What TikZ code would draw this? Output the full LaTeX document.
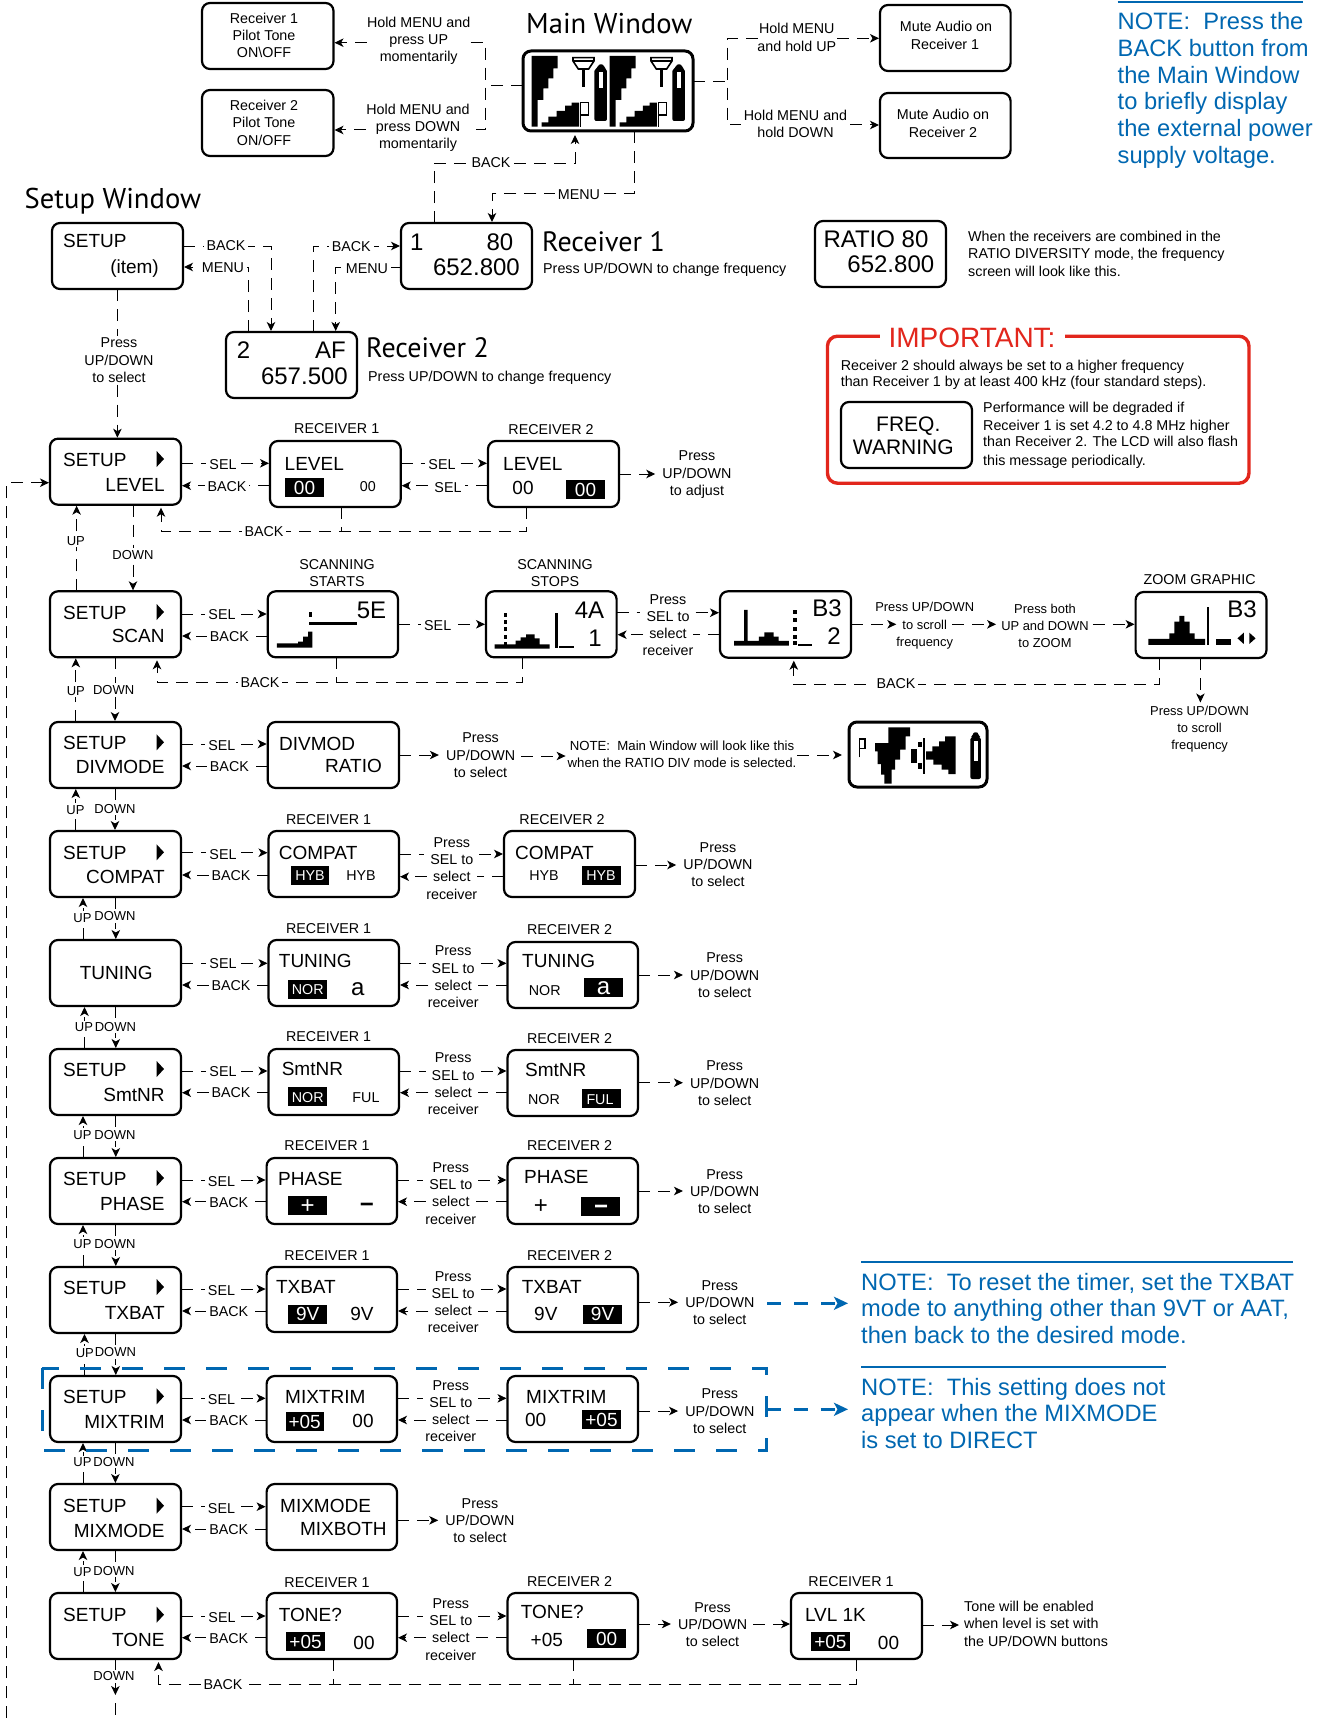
\documentclass[tikz,border=0pt]{standalone}
\usepackage{fontspec}
\setmainfont{Liberation Sans}
\newfontfamily\myr{PT Sans}
\usetikzlibrary{arrows.meta}
\definecolor{nblue}{RGB}{0,103,177}
\definecolor{nred}{RGB}{226,38,28}
\newcounter{tn}
\tikzset{
 tx/.style={inner sep=0pt,font=\fontsize{14.3}{17}\selectfont},
 big/.style={font=\fontsize{19}{22}\selectfont},
 lg/.style={font=\fontsize{24}{26}\selectfont},
 nt/.style={font=\fontsize{23.7}{26}\selectfont,text=nblue},
 ttl/.style={font=\fontsize{28}{30}\myr},
 ttlb/.style={font=\fontsize{28.6}{30}\myr},
 smf/.style={font=\fontsize{12.9}{16}\selectfont},
 lb/.style={fill=white,inner xsep=3pt,inner ysep=1pt},
 lbv/.style={fill=white,inner xsep=0.5pt,inner ysep=2pt,font=\fontsize{13}{16}\selectfont},
 sd/.style={inner xsep=6pt},
 lcdbox/.style={draw,line width=2.2pt,rounded corners=8pt,inner sep=0pt,outer sep=0pt},
 dl/.style={line width=1pt,dash pattern=on 12pt off 8pt},
 dla/.style={dl,-{Stealth[length=9pt,width=8.5pt,inset=2.5pt]},shorten >=1pt},
 bl/.style={line width=3pt,nblue,dash pattern=on 14pt off 13pt},
 bla/.style={bl,-{Stealth[length=14pt,width=13pt,inset=3.5pt]}},
}
\newcommand\Tc[4][]{\stepcounter{tn}\node[tx,anchor=base,#1] (t\number\value{tn}) at (#2,#3) {#4};}
\newcommand\Tl[4][]{\stepcounter{tn}\node[tx,anchor=base west,#1] (t\number\value{tn}) at (#2,#3) {#4};}
\newcommand\Tr[4][]{\stepcounter{tn}\node[tx,anchor=base east,#1] (t\number\value{tn}) at (#2,#3) {#4};}
\newcommand\lcd[6][]{\pgfmathsetmacro\lcdw{#5-#3}\pgfmathsetmacro\lcdh{#6-#4}%
 \node[lcdbox,minimum width=\lcdw pt,minimum height=\lcdh pt,#1] (#2) at ({(#3+#5)/2},{(#4+#6)/2}) {};}
\newcommand\inv[8][big]{\fill (#2,#3) rectangle (#4,#5); \Tc[#1,text=white]{#6}{#7}{#8}}
\newcommand\setupbox[5]{\lcd{#1}{50}{#2}{181}{#2+66}
 \Tl[big]{63}{#4}{SETUP}
 \fill (156.6,#4-15) -- (164,#4-7) -- (156.6,#4+1) -- cycle;
 \Tr[big]{164.8}{#5}{#3}}
\newcommand\blkiii[7][]{\pgfmathsetmacro\ba{#4+17.3}\pgfmathsetmacro\bb{#4+34.6}%
 \node[tx,anchor=base,sd,#1] (#2a) at (#3,#4) {#5};
 \node[tx,anchor=base,sd,#1] (#2b) at (#3,\ba) {#6};
 \node[tx,anchor=base,sd,#1] (#2c) at (#3,\bb) {#7};}
\newcommand\blkii[6][]{\pgfmathsetmacro\ba{#4+17.3}%
 \node[tx,anchor=base,sd,#1] (#2a) at (#3,#4) {#5};
 \node[tx,anchor=base,sd,#1] (#2b) at (#3,\ba) {#6};}
\newcommand\blkiv[3]{\pgfmathsetmacro\ba{#3+17.3}\pgfmathsetmacro\bb{#3+34.6}\pgfmathsetmacro\bc{#3+51.9}%
 \node[tx,anchor=base,sd] (#1a) at (#2,#3) {Press};
 \node[tx,anchor=base,sd] (#1b) at (#2,\ba) {SEL to};
 \node[tx,anchor=base,sd] (#1c) at (#2,\bb) {select};
 \node[tx,anchor=base,sd] (#1d) at (#2,\bc) {receiver};}
\newcommand\lnR[6]{\draw[dla] (#1.east |- 0,#3) -- (#2.west |- 0,#3); \Tc[lb]{#4}{#5}{#6}}
\newcommand\lnL[6]{\draw[dla] (#2.west |- 0,#3) -- (#1.east |- 0,#3); \Tc[lb]{#4}{#5}{#6}}
\newcommand\twoway[5]{%
 \draw[dl] (#1.east |- 0,#4) -- (#3b.west |- 0,#4);
 \draw[dla] (#3b.east |- 0,#4) -- (#2.west |- 0,#4);
 \draw[dla] (#3c.west |- 0,#5) -- (#1.east |- 0,#5);
 \draw[dl] (#2.west |- 0,#5) -- (#3c.east |- 0,#5);}
\newcommand\toblk[3]{\draw[dla] (#1.east |- 0,#3) -- (#2b.west |- 0,#3);}
\newcommand\vup[6]{\draw[dla] (#3,0 |- #1.north) -- (#3,0 |- #2.south); \Tc[lbv]{#4}{#5}{#6}}
\newcommand\vdn[6]{\draw[dla] (#3,0 |- #1.south) -- (#3,0 |- #2.north); \Tc[lbv]{#4}{#5}{#6}}
\begin{document}
\begin{tikzpicture}[x=1pt,y=-1pt]
\useasboundingbox (0,0) rectangle (1320,1718);
% ---------- screens
\lcd{pilota}{202}{3}{333.5}{69}
\lcd{pilotb}{202}{90}{333.5}{156}
\lcd[line width=3pt]{mainw}{523}{51}{693}{131}
\lcd{mutea}{880}{5}{1010.6}{71}
\lcd{muteb}{880}{93}{1010.6}{158}
\lcd{swin}{52}{223}{183}{289}
\lcd{reca}{401}{223}{532}{289}
\lcd{recb}{226}{332}{357}{398}
\lcd{ratio}{815}{221}{946}{287}
\lcd{freq}{841}{402}{972}{468}
\lcd{lvla}{270}{441}{400.7}{507}
\lcd{lvlb}{488}{441}{619}{507}
\lcd{scana}{267.7}{591.3}{398}{657.3}
\lcd{scanb}{486}{591.3}{616.6}{657.3}
\lcd{bthree}{720}{591.3}{851}{657.7}
\lcd{zoomg}{1135.6}{592}{1266.5}{658}
\lcd{divm}{267.7}{722}{399}{788}
\lcd[line width=3pt]{rmain}{849}{722}{987}{787}
\lcd{compa}{268.5}{831}{399}{897}
\lcd{compb}{504}{831}{635}{897}
\lcd{tuna}{268.5}{940}{399}{1006}
\lcd{tunb}{507.5}{942}{638}{1008}
\lcd{smta}{268.5}{1049}{399}{1115}
\lcd{smtb}{507.5}{1050}{638}{1116}
\lcd{phaa}{266.6}{1158}{397}{1224}
\lcd{phab}{507.5}{1158}{638}{1224}
\lcd{txba}{266.6}{1267}{397}{1332}
\lcd{txbb}{507.5}{1267}{638}{1332}
\lcd{mixa}{266.6}{1376}{397}{1442}
\lcd{mixb}{507.5}{1376}{638}{1442}
\lcd{mixm}{266.6}{1484}{397}{1550}
\lcd{tona}{266.6}{1593}{397}{1659}
\lcd{tonb}{507.5}{1593}{638}{1659}
\lcd{lvlk}{791}{1593}{922}{1659}
% ---------- setup column
\setupbox{slevel}{438.7}{LEVEL}{466}{491}
\setupbox{sscan}{591.3}{SCAN}{619}{642.7}
\setupbox{sdiv}{722}{DIVMODE}{749.3}{773.3}
\setupbox{scomp}{831}{COMPAT}{859.3}{883.3}
\lcd{stun}{50}{940}{181}{1006}
\Tc[big]{116.3}{979}{TUNING}
\setupbox{ssmt}{1049}{SmtNR}{1076}{1101}
\setupbox{spha}{1158}{PHASE}{1185}{1210}
\setupbox{stxb}{1267}{TXBAT}{1294}{1319}
\setupbox{smix}{1376}{MIXTRIM}{1403.3}{1428.3}
\setupbox{smm}{1484}{MIXMODE}{1512.7}{1537.3}
\setupbox{ston}{1593}{TONE}{1621.7}{1646}
% ---------- titles, top block
\Tl[ttlb]{526}{33.3}{Main Window}
\Tl[ttlb]{24.5}{208.3}{Setup Window}
\Tl[ttl]{542}{251.7}{Receiver 1}
\Tl[ttl]{366}{357}{Receiver 2}
\Tl{543}{273}{Press UP/DOWN to change frequency}
\Tl{368}{381}{Press UP/DOWN to change frequency}
\Tc{264}{24}{Receiver 1}\Tc{264}{40.7}{Pilot Tone}\Tc{264}{57.7}{ON\textbackslash OFF}
\Tc{264}{111}{Receiver 2}\Tc{264}{128}{Pilot Tone}\Tc{264}{145.3}{ON/OFF}
\Tc{946}{31.7}{Mute Audio on}\Tc{945}{49.3}{Receiver 1}
\Tc{943}{119.3}{Mute Audio on}\Tc{943}{137.3}{Receiver 2}
\blkiii[inner xsep=0pt]{hma}{418.7}{27.3}{Hold MENU and}{press UP}{momentarily}
\blkiii[inner xsep=0pt]{hmb}{418}{114.3}{Hold MENU and}{press DOWN}{momentarily}
\blkii[inner xsep=1pt]{hmc}{796.8}{34}{Hold MENU}{and hold UP}
\blkii[inner xsep=3pt]{hmd}{795.5}{120.7}{Hold MENU and}{hold DOWN}
\Tl[big]{63}{247.7}{SETUP}
\Tr[big]{159}{273}{(item)}
\Tl[lg]{410}{250}{1}\Tr[lg]{513.4}{250}{80}\Tr[lg]{520}{275}{652.800}
\Tl[lg]{236.6}{358}{2}\Tr[lg]{346}{358}{AF}\Tr[lg]{348}{384}{657.500}
\Tl[lg]{823.3}{247.7}{RATIO 80}\Tr[lg]{934.4}{272.3}{652.800}
\Tl{968}{241}{When the receivers are combined in the}
\Tl{968}{258.3}{RATIO DIVERSITY mode, the frequency}
\Tl{968}{276}{screen will look like this.}
% ---------- notes
\draw[nblue,line width=1.6pt] (1117.5,2) -- (1302.7,2);
\Tl[nt]{1117.5}{30}{NOTE:\ \ Press the}
\Tl[nt]{1117.5}{57}{BACK button from}
\Tl[nt]{1117.5}{83.5}{the Main Window}
\Tl[nt]{1117.5}{110}{to briefly display}
\Tl[nt]{1117.5}{137}{the external power}
\Tl[nt]{1117.5}{163}{supply voltage.}
\draw[nblue,line width=1.6pt] (861,1261.7) -- (1293,1261.7);
\Tl[nt]{861}{1290}{NOTE:\ \ To reset the timer, set the TXBAT}
\Tl[nt]{861}{1316.7}{mode to anything other than 9VT or AAT,}
\Tl[nt]{861}{1343.3}{then back to the desired mode.}
\draw[nblue,line width=1.6pt] (861,1366.7) -- (1165.6,1366.7);
\Tl[nt]{861}{1395}{NOTE:\ \ This setting does not}
\Tl[nt]{861}{1421.7}{appear when the MIXMODE}
\Tl[nt]{861}{1448.3}{is set to DIRECT}
% ---------- important
\node[draw=nred,line width=3.4pt,rounded corners=10pt,minimum width=421.5pt,minimum height=147pt,inner sep=0pt] (imp) at (1038.2,409.7) {};
\Tc[fill=white,inner xsep=9pt,text=nred,font=\fontsize{28}{30}\selectfont]{972}{347.3}{IMPORTANT:}
\Tl{840.6}{370}{Receiver 2 should always be set to a higher frequency}
\Tl{840.6}{386.7}{than Receiver 1 by at least 400 kHz (four standard steps).}
\Tl{983}{412}{Performance will be degraded if}
\Tl{983}{430}{Receiver 1 is set 4.2 to 4.8 MHz higher}
\Tl{983}{446.7}{than Receiver 2. The LCD will also flash}
\Tl{983}{465}{this message periodically.}
\Tc[font=\fontsize{21}{24}\selectfont]{908.3}{431.7}{FREQ.}
\Tc[font=\fontsize{21}{24}\selectfont]{903.3}{454}{WARNING}
% ---------- main window graphic
\begin{scope}[shift={(515,45)},x=0.3333pt,y=-0.3333pt]
\foreach \d in {0,234}{
 \fill (50+\d,33) -- (128+\d,33) -- (128+\d,70) -- (115+\d,70) -- (115+\d,100) -- (100+\d,100) -- (100+\d,130) -- (85+\d,130) -- (85+\d,165) -- (68+\d,165) -- (68+\d,245) -- (50+\d,245) -- cycle;
 \fill (80+\d,245) -- (80+\d,232) -- (100+\d,232) -- (100+\d,215) -- (125+\d,215) -- (125+\d,198) -- (150+\d,198) -- (150+\d,182) -- (170+\d,182) -- (170+\d,173) -- (192+\d,173) -- (192+\d,245) -- cycle;
 \draw[line width=1.2pt] (197+\d,245) -- (197+\d,173) -- (220+\d,173) -- (220+\d,210) -- (197+\d,210);
 \draw[line width=1.6pt] (174+\d,38) -- (237+\d,38) -- (237+\d,48) -- (221+\d,72) -- (190+\d,72) -- (174+\d,48) -- cycle (174+\d,48) -- (237+\d,48);
 \fill (200+\d,72) rectangle (211+\d,125);
 \fill[rounded corners=2pt] (238+\d,228) -- (238+\d,72) -- (250+\d,68) -- (250+\d,58) -- (266+\d,58) -- (266+\d,68) -- (276+\d,72) -- (276+\d,228) -- cycle;
 \fill[white] (253+\d,80) rectangle (264+\d,130);
}
\end{scope}
% ---------- scan graphics
\begin{scope}[shift={(0,420)},x=0.4209pt,y=-0.3333pt]
\fill (658,683) -- (658,670) -- (708,670) -- (708,665) -- (720,665) -- (720,650) -- (732,650) -- (732,635) -- (742,635) -- (742,683) -- cycle;
\fill (733,576) rectangle (742,590);
\fill (735,605) rectangle (848,615);
\fill (1175,686) -- (1175,673) -- (1225,673) -- (1225,662) -- (1237,662) -- (1237,652) -- (1250,652) -- (1250,643) -- (1270,643) -- (1270,655) -- (1282,655) -- (1282,673) -- (1306,673) -- (1306,686) -- cycle;
\foreach \a in {578,600,622,645,665}{\fill (1197,\a) rectangle (1205,\a+12);}
\fill (1318,578) rectangle (1325,683);
\fill (1329,678) rectangle (1364,683);
\end{scope}
\begin{scope}[shift={(660,540)},x=0.4209pt,y=-0.3333pt]
\fill (176,317) -- (176,303) -- (200,303) -- (200,210) -- (208,210) -- (208,303) -- (235,303) -- (235,290) -- (248,290) -- (248,277) -- (270,277) -- (270,290) -- (282,290) -- (282,303) -- (306,303) -- (306,317) -- cycle;
\foreach \a in {210,235,260,285,303}{\fill (316,\a) rectangle (325,\a+12);}
\fill (328,313) rectangle (362,317);
% zoom
\fill (1160,315) -- (1160,297) -- (1210,297) -- (1210,280) -- (1222,280) -- (1222,245) -- (1234,245) -- (1234,228) -- (1246,228) -- (1246,245) -- (1258,245) -- (1258,280) -- (1270,280) -- (1270,297) -- (1295,297) -- (1295,315) -- cycle;
\fill (1300,200) rectangle (1304,316);
\fill (1320,298) rectangle (1357,314);
\fill (1372,295) -- (1387,278) -- (1387,312) -- cycle;
\fill (1400,278) -- (1415,295) -- (1400,312) -- cycle;
\end{scope}
% ratio main window
\begin{scope}[shift={(845,718)},x=0.3333pt,y=-0.3333pt]
\draw[line width=1.2pt] (44,118) -- (44,63) -- (60,63) -- (60,92) -- (44,92);
\fill (90,100) -- (90,75) -- (130,75) -- (130,28) -- (195,28) -- (195,55) -- (182,55) -- (182,95) -- (165,95) -- (165,125) -- (150,125) -- (150,155) -- (140,155) -- (140,197) -- (118,197) -- (118,170) -- (108,170) -- (108,138) -- (98,138) -- (98,100) -- cycle;
\fill (198,92) rectangle (215,135);
\fill (220,72) rectangle (230,88);
\fill (220,135) rectangle (230,152);
\fill (234,60) rectangle (239,168);
\fill (243,125) -- (243,100) -- (262,100) -- (262,85) -- (282,85) -- (282,70) -- (300,70) -- (300,55) -- (332,55) -- (332,168) -- (310,168) -- (310,155) -- (290,155) -- (290,140) -- (265,140) -- (265,125) -- cycle;
\fill[rounded corners=2pt] (376,183) -- (376,58) -- (384,55) -- (384,43) -- (400,43) -- (400,55) -- (408,58) -- (408,183) -- cycle;
\fill[white] (386,68) rectangle (398,130);
\end{scope}
% ---------- row texts
\Tc{336.7}{433.3}{RECEIVER 1}
\Tc{551}{434}{RECEIVER 2}
\Tl[big]{284.5}{470.7}{LEVEL}
\inv{285}{478}{324}{496.7}{304.5}{494.5}{00}
\Tc{367.8}{491.3}{00}
\Tl[big]{503}{470.7}{LEVEL}
\Tc[big]{523}{494}{00}
\inv{566}{480}{605}{498.7}{585.5}{496.5}{00}
\blkiii{adj}{697}{460.7}{Press}{UP/DOWN}{to adjust}
% scan
\Tc{337}{569}{SCANNING}\Tc{337}{586}{STARTS}
\Tc{555}{569}{SCANNING}\Tc{555}{586}{STOPS}
\Tr[lg]{386.4}{618.3}{5E}
\Tr[lg]{604.4}{618.3}{4A}\Tr[lg]{601.9}{646}{1}
\blkiv{pst}{668}{604}
\Tr[lg]{841.8}{616.7}{B3}\Tr[lg]{841}{644}{2}
\blkiii[smf,inner xsep=5pt]{scr}{924.7}{611.7}{Press UP/DOWN}{to scroll}{frequency}
\blkiii[smf,inner xsep=4pt]{pboth}{1045}{613.3}{Press both}{UP and DOWN}{to ZOOM}
\Tc{1199.6}{584.3}{ZOOM GRAPHIC}
\Tr[lg]{1256.8}{617.3}{B3}
\blkiii[smf]{scrb}{1199.6}{715}{Press UP/DOWN}{to scroll}{frequency}
% divmode
\Tl[big]{279}{750}{DIVMOD}\Tr[big]{382}{772.7}{RATIO}
\blkiii{dps}{480.6}{742.7}{Press}{UP/DOWN}{to select}
\blkii[inner xsep=3pt,font=\fontsize{13.2}{16}\selectfont]{dnt}{682}{750}{NOTE:\ \ Main Window will look like this}{when the RATIO DIV mode is selected.}
% compat
\Tc{328.6}{824}{RECEIVER 1}\Tc{562}{824}{RECEIVER 2}
\Tl[big]{278.7}{859}{COMPAT}
\inv[tx]{290.8}{866}{328.6}{884.7}{310}{880}{HYB}
\Tc{361}{880}{HYB}
\Tl[big]{515}{859}{COMPAT}
\Tc{544}{880}{HYB}
\inv[tx]{582}{866}{620.5}{884.7}{601}{880}{HYB}
\blkiv{pca}{451.8}{847.3}
\blkiii{pcb}{718}{852.3}{Press}{UP/DOWN}{to select}
% tuning
\Tc{328.6}{933.3}{RECEIVER 1}\Tc{569.6}{934.3}{RECEIVER 2}
\Tl[big]{278.7}{967.7}{TUNING}
\inv[tx]{288.4}{980}{327}{999}{307.7}{994.3}{NOR}
\Tc[lg]{357.7}{995.7}{a}
\Tl[big]{522}{967.7}{TUNING}
\Tc{544.8}{995}{NOR}
\inv[lg]{584}{978}{623}{996.7}{603.5}{994}{a}
\blkiv{pta}{453.2}{955.7}
\blkiii{ptb}{724.7}{962.7}{Press}{UP/DOWN}{to select}
% smtnr
\Tc{328.6}{1041.7}{RECEIVER 1}\Tc{569.6}{1043.3}{RECEIVER 2}
\Tl[big]{281.6}{1075.7}{SmtNR}
\inv[tx]{288.4}{1087}{327}{1105.7}{307.7}{1102.3}{NOR}
\Tc{366}{1102}{FUL}
\Tl[big]{525}{1076}{SmtNR}
\Tc{544}{1104.5}{NOR}
\inv[tx]{582}{1089}{620.5}{1107.7}{600}{1104.3}{FUL}
\blkiv{psa}{453.2}{1062.7}
\blkiii{psb}{724.7}{1070.7}{Press}{UP/DOWN}{to select}
% phase
\Tc{327}{1150.7}{RECEIVER 1}\Tc{569.6}{1150.7}{RECEIVER 2}
\Tl[big]{278}{1185}{PHASE}
\inv[lg]{288}{1196}{327}{1214.7}{307.7}{1213.5}{+}
\Tc[font=\fontsize{24}{26}\bfseries]{367}{1212.7}{−}
\Tl[big]{524}{1183.3}{PHASE}
\Tc[lg]{541}{1213.5}{+}
\inv[font=\fontsize{24}{26}\bfseries]{581}{1197}{620}{1215.7}{601}{1214.5}{−}
\blkiv{ppa}{450.8}{1172.3}
\blkiii{ppb}{724.7}{1179.3}{Press}{UP/DOWN}{to select}
% txbat
\Tc{327}{1260}{RECEIVER 1}\Tc{569.6}{1260}{RECEIVER 2}
\Tl[big]{275.8}{1293.3}{TXBAT}
\inv{288}{1305}{327}{1323.7}{307.7}{1320.7}{9V}
\Tc[big]{362}{1320.7}{9V}
\Tl[big]{521.6}{1293}{TXBAT}
\Tc[big]{545.8}{1320.7}{9V}
\inv{583}{1305}{622}{1323.7}{602.6}{1320.7}{9V}
\blkiv{pxa}{453.2}{1281}
\blkiii{pxb}{719.8}{1290}{Press}{UP/DOWN}{to select}
% mixtrim
\Tl[big]{285}{1403.3}{MIXTRIM}
\inv{285.5}{1412.3}{323.8}{1431}{304.7}{1428}{+05}
\Tc[big]{363}{1427.7}{00}
\Tl[big]{526}{1403}{MIXTRIM}
\Tc[big]{535.6}{1426}{00}
\inv{582}{1410.3}{621}{1429}{601.5}{1426}{+05}
\blkiv{pma}{450.8}{1390}
\blkiii{pmb}{719.8}{1398.7}{Press}{UP/DOWN}{to select}
% mixmode
\Tl[big]{280}{1512.7}{MIXMODE}\Tr[big]{386.8}{1535.7}{MIXBOTH}
\blkiii{pmm}{480}{1508.3}{Press}{UP/DOWN}{to select}
% tone
\Tc{327}{1587.3}{RECEIVER 1}\Tc{569.6}{1586}{RECEIVER 2}\Tc{851}{1586.7}{RECEIVER 1}
\Tl[big]{278.7}{1621}{TONE?}
\inv{286}{1632.3}{325}{1651}{305.6}{1648}{+05}
\Tc[big]{364}{1649.3}{00}
\Tl[big]{520.6}{1618.3}{TONE?}
\Tc[big]{546.8}{1646}{+05}
\inv{587}{1629}{626.3}{1647.7}{606.6}{1645}{00}
\blkiv{pna}{450.8}{1608.3}
\blkiii{pnb}{712.6}{1612.3}{Press}{UP/DOWN}{to select}
\Tl[big]{804.8}{1621}{LVL 1K}
\inv{810.9}{1632.3}{849.9}{1651}{830.4}{1648}{+05}
\Tc[big]{888.5}{1649.3}{00}
\node[tx,anchor=base west] (tnea) at (964,1611) {Tone will be enabled};
\node[tx,anchor=base west] (tneb) at (964,1628.3) {when level is set with};
\node[tx,anchor=base west] (tnec) at (964,1646) {the UP/DOWN buttons};
% ---------- top connectors
\coordinate (jl) at (485.7,86);
\coordinate (jr) at (727.3,82);
\draw[dl] (mainw.west |- jl) -- (jl);
\draw[dl] (hmaa.east |- 0,42.7) -- (jl |- 0,42.7) -- (jl |- 0,130) -- (hmba.east |- 0,130);
\draw[dla] (hmaa.west |- 0,42.7) -- (pilota.east |- 0,42.7);
\draw[dla] (hmba.west |- 0,130) -- (pilotb.east |- 0,130);
\draw[dl] (mainw.east |- jr) -- (jr);
\draw[dl] (hmca.west |- 0,38.3) -- (jr |- 0,38.3) -- (jr |- 0,125) -- (hmda.west |- 0,125);
\draw[dla] (hmcb.east |- 0,38.3) -- (mutea.west |- 0,38.3);
\draw[dla] (hmda.east |- 0,125) -- (muteb.west |- 0,125);
\draw[dla,shorten >=4pt] (434,0 |- reca.north) -- (434,163.3) -- (575,163.3) -- (575,0 |- mainw.south);
\Tc[lb]{491}{167.7}{BACK}
\draw[dla] (634,0 |- mainw.south) -- (634,193.3) -- (492,193.3) -- (492,0 |- reca.north);
\Tc[lb]{579}{199}{MENU}
\draw[dla] (swin.east |- 0,246) -- (271,246) -- (271,0 |- recb.north);
\Tc[lb]{226}{250.7}{BACK}
\draw[dla] (248,0 |- recb.north) -- (248,267) -- (swin.east |- 0,267);
\Tc[lb]{223}{272.3}{MENU}
\draw[dla] (313.4,0 |- recb.north) -- (313.4,246) -- (reca.west |- 0,246);
\Tc[lb]{351.3}{251.7}{BACK}
\draw[dla] (reca.west |- 0,267.7) -- (335.7,267.7) -- (335.7,0 |- recb.north);
\Tc[lb]{367}{273.3}{MENU}
\blkiii[inner ysep=2pt]{sel}{119}{347.7}{Press}{UP/DOWN}{to select}
\draw[dl] (117.4,0 |- swin.south) -- (117.4,0 |- sela.north);
\draw[dla] (117.4,0 |- selc.south) -- (117.4,0 |- slevel.north);
% left return
\coordinate (lfb) at (6.7,1718);
\draw[dla] (lfb) -- (lfb |- 0,482.7) -- (slevel.west |- 0,482.7);
% ---------- level row
\lnR{slevel}{lvla}{463.3}{223}{469.3}{SEL}
\lnL{slevel}{lvla}{485.7}{227}{491.3}{BACK}
\lnR{lvla}{lvlb}{463.3}{442}{469.3}{SEL}
\lnL{lvla}{lvlb}{485.7}{448}{492}{SEL}
\toblk{lvlb}{adj}{474}
\draw[dla,shorten >=3pt] (526.5,0 |- lvlb.south) -- (526.5,531.7) -- (161,531.7) -- (161,0 |- slevel.south);
\draw[dl] (341,0 |- lvla.south) -- (341,531.7);
\Tc[lb]{264}{536}{BACK}
\vup{sscan}{slevel}{76.6}{75.8}{545}{UP}
\vdn{slevel}{sscan}{133}{133}{559}{DOWN}
% ---------- scan row
\lnR{sscan}{scana}{614}{222}{619.3}{SEL}
\lnL{sscan}{scana}{636}{229.4}{641.7}{BACK}
\lnR{scana}{scanb}{624.3}{437.7}{630}{SEL}
\twoway{scanb}{bthree}{pst}{612.7}{634.7}
\toblk{bthree}{scr}{624.3}
\draw[dla] (scrb.east |- 0,624.3) -- (pbothb.west |- 0,624.3);
\draw[dla] (pbothb.east |- 0,624.3) -- (zoomg.west |- 0,624.3);
\draw[dla,shorten >=3pt] (522.7,0 |- scanb.south) -- (522.7,682.3) -- (157,682.3) -- (157,0 |- sscan.south);
\draw[dl] (336.7,0 |- scana.south) -- (336.7,682.3);
\Tc[lb]{260}{687.3}{BACK}
\draw[dla,shorten >=3pt] (1159.6,0 |- zoomg.south) -- (1159.6,684) -- (793.8,684) -- (793.8,0 |- bthree.south);
\Tc[lb]{896}{688.7}{BACK}
\draw[dla,shorten >=3pt] (1200.4,0 |- zoomg.south) -- (1200.4,0 |- scrba.north);
\vup{sdiv}{sscan}{75.8}{75.8}{695}{UP}
\vdn{sscan}{sdiv}{115}{113.6}{694}{DOWN}
% ---------- divmode row
\lnR{sdiv}{divm}{744}{221.8}{750}{SEL}
\lnL{sdiv}{divm}{766}{229.4}{771.7}{BACK}
\toblk{divm}{dps}{755}
\draw[dla] (dpsb.east |- 0,756) -- (dnta.west |- 0,756);
\draw[dla,shorten >=7pt] (dnta.east |- 0,755) -- (rmain.west |- 0,755);
\vup{scomp}{sdiv}{75.8}{75.5}{814.3}{UP}
\vdn{sdiv}{scomp}{115}{115}{813}{DOWN}
% ---------- compat
\lnR{scomp}{compa}{852.7}{223}{859.3}{SEL}
\lnL{scomp}{compa}{875}{231}{880}{BACK}
\twoway{compa}{compb}{pca}{854}{876.7}
\toblk{compb}{pcb}{865}
\vup{stun}{scomp}{83}{82.4}{922.3}{UP}
\vdn{scomp}{stun}{115.8}{115}{920.7}{DOWN}
% ---------- tuning
\lnR{stun}{tuna}{963.3}{223}{968.3}{SEL}
\lnL{stun}{tuna}{985}{231}{990}{BACK}
\twoway{tuna}{tunb}{pta}{963.3}{985}
\toblk{tunb}{ptb}{975}
\vup{ssmt}{stun}{84.5}{83.9}{1031.7}{UP}
\vdn{stun}{ssmt}{115.8}{115.4}{1031}{DOWN}
% ---------- smtnr
\lnR{ssmt}{smta}{1071}{223}{1076.7}{SEL}
\lnL{ssmt}{smta}{1092.7}{231}{1097.7}{BACK}
\twoway{smta}{smtb}{psa}{1071}{1092.7}
\toblk{smtb}{psb}{1082.7}
\vup{spha}{ssmt}{83}{82.4}{1139.3}{UP}
\vdn{ssmt}{spha}{115.8}{115}{1139}{DOWN}
% ---------- phase
\lnR{spha}{phaa}{1180}{221.5}{1186}{SEL}
\lnL{spha}{phaa}{1201.7}{228.8}{1207.3}{BACK}
\twoway{phaa}{phab}{ppa}{1180}{1201.7}
\toblk{phab}{ppb}{1191}
\vup{stxb}{spha}{83}{82.4}{1248.3}{UP}
\vdn{spha}{stxb}{115.8}{115}{1248}{DOWN}
% ---------- txbat
\lnR{stxb}{txba}{1289}{221.5}{1295}{SEL}
\lnL{stxb}{txba}{1311}{228.8}{1316.7}{BACK}
\twoway{txba}{txbb}{pxa}{1289}{1311}
\toblk{txbb}{pxb}{1302.3}
\vup{smix}{stxb}{84.5}{84.8}{1357.3}{UP}
\vdn{stxb}{smix}{115.8}{115.4}{1356.7}{DOWN}
% ---------- mixtrim
\lnR{smix}{mixa}{1398.3}{221.5}{1404}{SEL}
\lnL{smix}{mixa}{1420}{228.8}{1425.3}{BACK}
\twoway{mixa}{mixb}{pma}{1398.3}{1420}
\toblk{mixb}{pmb}{1411}
\vup{smm}{smix}{83}{82.4}{1466.7}{UP}
\vdn{smix}{smm}{115.4}{114}{1466}{DOWN}
% ---------- mixmode
\lnR{smm}{mixm}{1506.7}{221.5}{1513.3}{SEL}
\lnL{smm}{mixm}{1529}{228.8}{1534.3}{BACK}
\toblk{mixm}{pmm}{1520.3}
\vup{ston}{smm}{83}{82.4}{1576}{UP}
\vdn{smm}{ston}{115.4}{114}{1575}{DOWN}
% ---------- tone
\lnR{ston}{tona}{1616}{222}{1622.3}{SEL}
\lnL{ston}{tona}{1637.7}{228.8}{1643.3}{BACK}
\twoway{tona}{tonb}{pna}{1616}{1637.7}
\toblk{tonb}{pnb}{1624}
\draw[dla] (pnbb.east |- 0,1624) -- (lvlk.west |- 0,1624);
\draw[dla,shorten >=5pt] (lvlk.east |- 0,1625) -- (tneb.west |- 0,1625);
\draw[dla,shorten >=3pt] (856,0 |- lvlk.south) -- (856,1684.3) -- (158.5,1684.3) -- (158.5,0 |- ston.south);
\draw[dl] (573,0 |- tonb.south) -- (573,1684.3);
\draw[dl] (333.5,0 |- tona.south) -- (333.5,1684.3);
\Tc[lb]{223}{1689.3}{BACK}
\coordinate (dna) at (115.4,1696);
\coordinate (dnb) at (115.4,1703);
\coordinate (dnc) at (115.4,1718);
\draw[dla] (115.4,0 |- ston.south) -- (dna);
\Tc[lbv]{114}{1680.7}{DOWN}
\draw[dl] (dnb) -- (dnc);
% ---------- blue
\draw[line width=3pt,nblue,dash pattern=on 21pt off 21pt] (42,1368) rectangle (766.6,1450);
\coordinate (nta) at (848,1303.3);
\coordinate (ntb) at (848,1409.3);
\draw[bla] (767,1303.3) -- (nta);
\draw[bla] (766.6,1409.3) -- (ntb);
\end{tikzpicture}
\end{document}
